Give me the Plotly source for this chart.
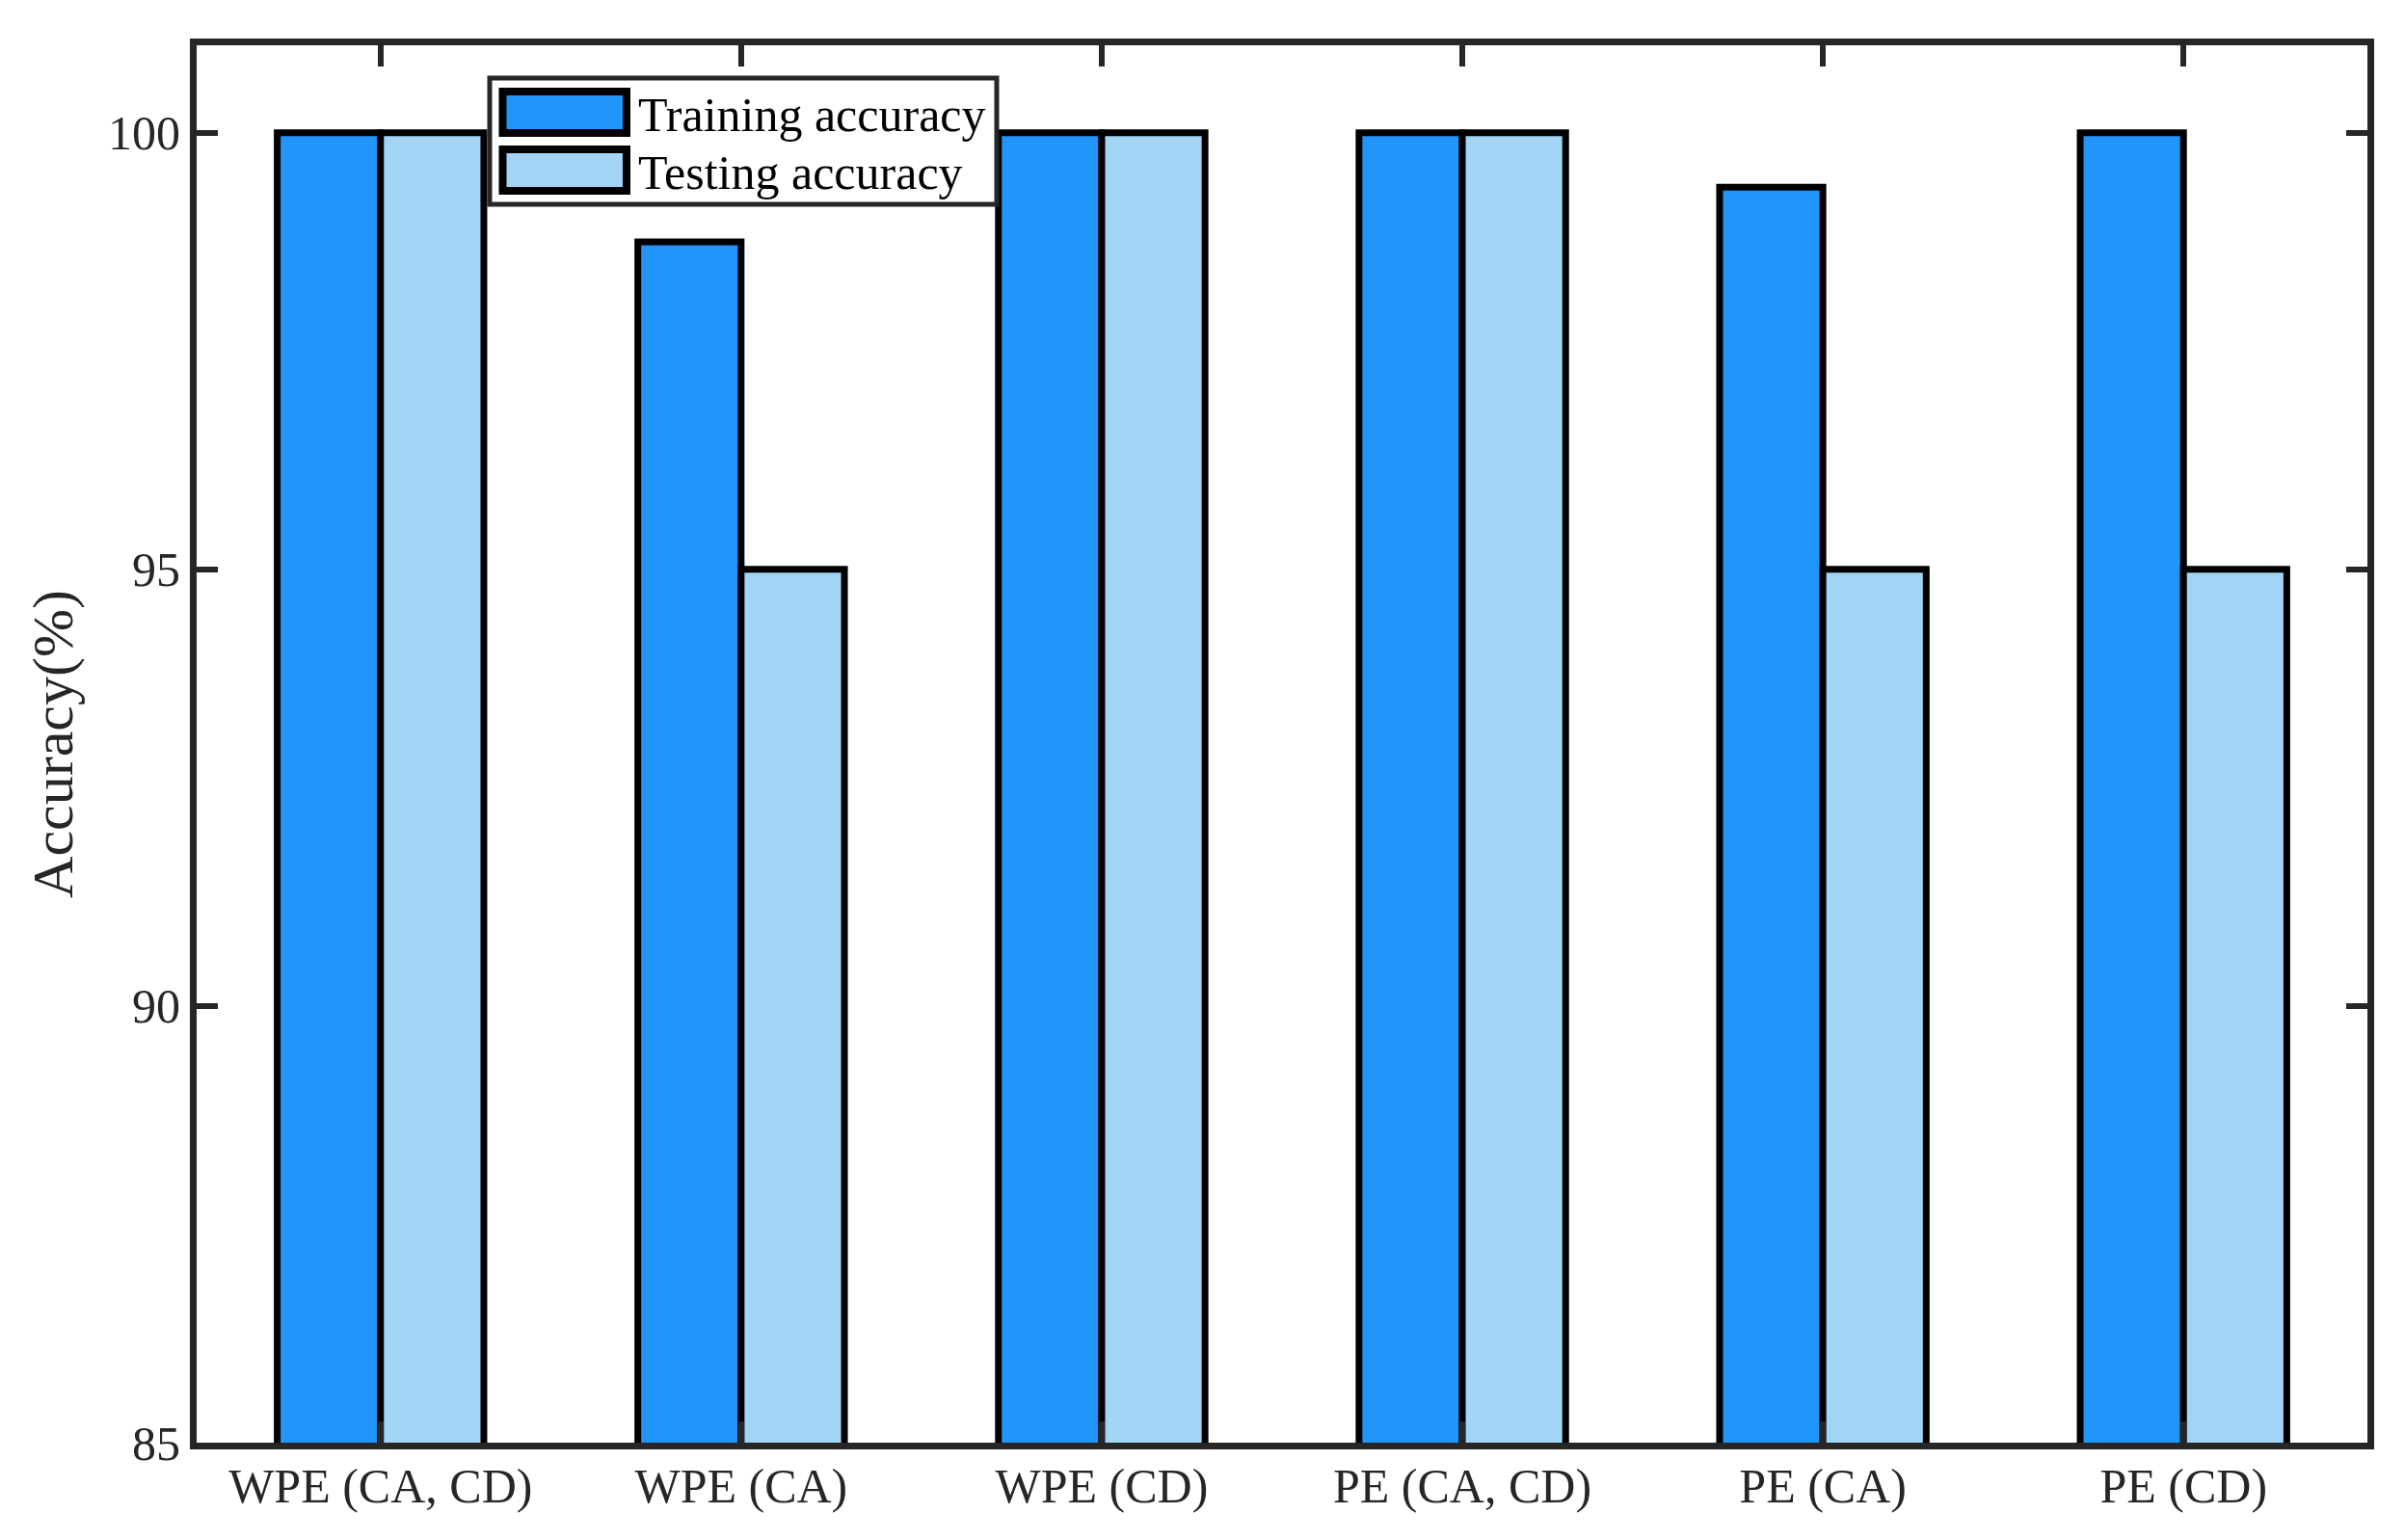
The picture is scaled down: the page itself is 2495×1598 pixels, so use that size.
import plotly.graph_objects as go

categories = ["WPE (CA, CD)", "WPE (CA)", "WPE (CD)", "PE (CA, CD)", "PE (CA)", "PE (CD)"]
training_acc = [100, 98.75, 100, 100, 99.375, 100]
testing_acc = [100, 95, 100, 100, 95, 95]
series_names = ["Training accuracy", "Testing accuracy"]
y_tick_vals = [85, 90, 95, 100]

C_TRAIN = "#2195FA"
C_TEST = "#A2D5F5"
AX = "#262626"
FONT = "Liberation Serif"

# page body has an 8px default margin; compensate so the plot area lands
# at x 204..2456, y 47..1497 in the 2495x1598 window
OFF = 8
W, H = 2479, 1582
L, T = 204 - OFF, 47 - OFF
R = W - (2456 - OFF)
B = H - (1497 - OFF)

fig = go.Figure()
fig.add_trace(go.Bar(x=categories, y=training_acc, name=series_names[0],
                     marker=dict(color=C_TRAIN, line=dict(color="black", width=7)),
                     showlegend=False))
fig.add_trace(go.Bar(x=categories, y=testing_acc, name=series_names[1],
                     marker=dict(color=C_TEST, line=dict(color="black", width=7)),
                     showlegend=False))

fig.update_layout(
    width=W, height=H,
    margin=dict(l=L, r=R, t=T, b=B, pad=0),
    paper_bgcolor="white", plot_bgcolor="white",
    barmode="group", bargap=0.427, bargroupgap=0,
    font=dict(family=FONT, color=AX, size=50),
    xaxis=dict(range=[-0.51, 5.51], showline=True, linecolor=AX, linewidth=7,
               mirror="ticks", ticks="inside", ticklen=22, tickwidth=6, tickcolor=AX,
               tickfont=dict(family=FONT, size=50, color=AX), showgrid=False,
               zeroline=False, ticklabelstandoff=-5),
    yaxis=dict(range=[85, 101], showline=True, linecolor=AX, linewidth=7,
               mirror="ticks", ticks="inside", ticklen=22, tickwidth=6, tickcolor=AX,
               tickvals=y_tick_vals, tickfont=dict(family=FONT, size=50, color=AX),
               showgrid=False, zeroline=False,
               title=dict(text="Accuracy(%)", font=dict(family=FONT, size=60, color=AX), standoff=20)),
)

# Legend (MATLAB-style box with large swatches), positions in window px
pw, ph = W - L - R, H - T - B
def px(x):
    return (x - OFF - L) / pw
def py(y):
    return (H - B - (y - OFF)) / ph

fig.add_shape(type="rect", xref="paper", yref="paper",
              x0=px(508), x1=px(1034), y0=py(212), y1=py(81),
              fillcolor="white", line=dict(color=AX, width=5), layer="above")
rows = [(95, 138, C_TRAIN, series_names[0]), (155, 198, C_TEST, series_names[1])]
for top, bot, col, name in rows:
    fig.add_shape(type="rect", xref="paper", yref="paper",
                  x0=px(521.5), x1=px(650), y0=py(bot), y1=py(top),
                  fillcolor=col, line=dict(color="black", width=8), layer="above")
    fig.add_annotation(xref="paper", yref="paper", x=px(660), y=py((top + bot) / 2 + 2),
                       text=name, showarrow=False, xanchor="left", yanchor="middle",
                       font=dict(family=FONT, size=50, color="black"))

fig.write_html("out.html")
